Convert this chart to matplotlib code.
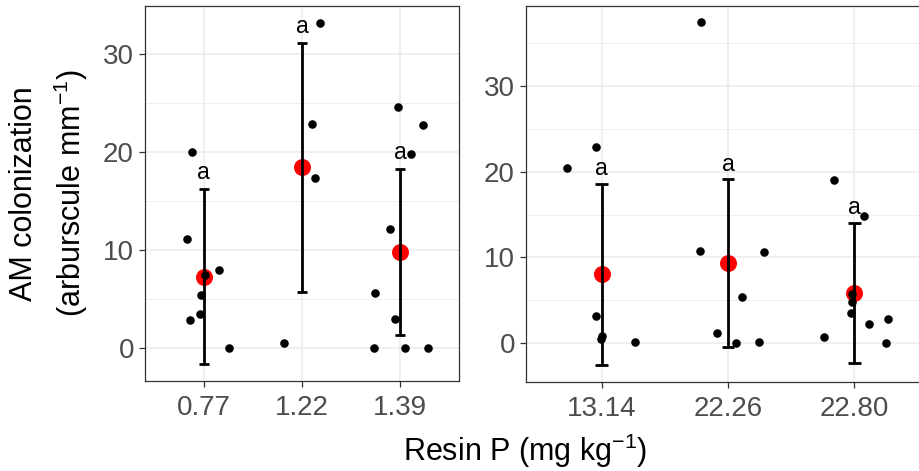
import matplotlib
matplotlib.use("Agg")
import matplotlib.pyplot as plt
import numpy as np

plt.rcParams['font.family'] = ['Liberation Sans', 'DejaVu Sans']
plt.rcParams['mathtext.fontset'] = 'custom'
plt.rcParams['mathtext.rm'] = 'Liberation Sans'
plt.rcParams['mathtext.it'] = 'Liberation Sans:italic'
plt.rcParams['mathtext.default'] = 'regular'

# ---------------- data ----------------
left_labels = ["0.77", "1.22", "1.39"]
right_labels = ["13.14", "22.26", "22.80"]

l1_y = [20.07, 11.15, 8.03, 7.49, 5.39, 3.49, 2.88, 0.0]
l1_dx = [-0.119, -0.177, 0.156, 0.007, -0.034, -0.044, -0.139, 0.258]
l2_y = [33.15, 22.92, 17.39, 0.51]
l2_dx = [0.184, 0.102, 0.129, -0.187]
l3_y = [24.64, 22.78, 19.86, 12.14, 5.69, 2.95, 0.0, 0.0, 0.0]
l3_dx = [-0.024, 0.231, 0.112, -0.105, -0.252, -0.048, -0.265, 0.051, 0.282]

r1_y = [20.40, 22.89, 3.23, 0.86, 0.54, 0.16]
r1_dx = [-0.274, -0.047, -0.045, 0.003, -0.003, 0.266]
r2_y = [37.43, 10.80, 10.69, 5.40, 1.17, 0.0, 0.16]
r2_dx = [-0.211, -0.224, 0.285, 0.113, -0.084, 0.066, 0.243]
r3_y = [19.04, 14.85, 5.75, 4.85, 3.50, 2.21, 2.80, 0.70, 0.0]
r3_dx = [-0.164, 0.079, -0.018, -0.018, -0.026, 0.119, 0.264, -0.243, 0.248]

left_means = [7.32, 18.47, 9.81]
left_sd = [8.95, 12.68, 8.46]
right_means = [8.03, 9.37, 5.91]
right_sd = [10.55, 9.76, 8.16]

left_letters = ["a", "a", "a"]
right_letters = ["a", "a", "a"]

# ---------------- figure ----------------
W, H = 920, 471
fig = plt.figure(figsize=(W / 100, H / 100), dpi=100)
axL = fig.add_axes([145 / W, 90 / H, 314 / W, 375 / H])
axR = fig.add_axes([526 / W, 89.3 / H, 404 / W, 375.7 / H])

GRID = '#EBEBEB'
TICKC = '#4D4D4D'
BORDER = '#333333'


def panel(ax, labels, ys, dxs, means, sds, letters, ylim, major, minor):
    ax.set_facecolor('white')
    ax.set_xlim(0.4, 3.6)
    ax.set_ylim(*ylim)
    ax.set_xticks([1, 2, 3])
    ax.set_xticklabels(labels)
    ax.set_yticks(major)
    ax.set_yticks(minor, minor=True)
    ax.grid(True, which='major', color=GRID, lw=1.1, zorder=0)
    ax.grid(True, which='minor', axis='y', color=GRID, lw=0.55, zorder=0)
    ax.set_axisbelow(True)
    ax.tick_params(axis='both', which='major', length=4, width=0.9,
                   color=BORDER, labelcolor=TICKC, labelsize=20)
    ax.tick_params(axis='x', pad=6)
    ax.tick_params(axis='y', pad=4)
    ax.tick_params(which='minor', length=0)
    for s in ax.spines.values():
        s.set_color(BORDER)
        s.set_linewidth(0.9)
    xs = np.arange(1, len(labels) + 1)
    # means
    ax.scatter(xs, means, s=150, color='red', zorder=3, linewidths=0)
    lo = np.array(means) - np.array(sds)
    hi = np.array(means) + np.array(sds)
    ax.vlines(xs, lo, hi, color='black', lw=2.0, zorder=4)
    ax.hlines(lo, xs - 0.05, xs + 0.05, color='black', lw=2.0, zorder=4)
    ax.hlines(hi, xs - 0.05, xs + 0.05, color='black', lw=2.0, zorder=4)
    for i, (y, dx) in enumerate(zip(ys, dxs)):
        ax.scatter(xs[i] + np.array(dx), y, s=38, color='black',
                   zorder=5, linewidths=0)
    for i, t in enumerate(letters):
        ax.text(xs[i], hi[i] + 1.0, t, ha='center', va='baseline',
                fontsize=16.5, color='black', zorder=6)


panel(axL, left_labels, [l1_y, l2_y, l3_y], [l1_dx, l2_dx, l3_dx],
      left_means, left_sd, left_letters, (-3.34, 34.93),
      [0, 10, 20, 30], [5, 15, 25])
panel(axR, right_labels, [r1_y, r2_y, r3_y], [r1_dx, r2_dx, r3_dx],
      right_means, right_sd, right_letters, (-4.48, 39.3),
      [0, 10, 20, 30], [5, 15, 25, 35])

axL.set_ylabel('AM colonization\n(arburscule mm$^{-1}$)', fontsize=22,
               color='black', linespacing=1.45, labelpad=9)

fig.text(525 / W, (H - 461) / H,
         'Resin P (mg kg$^{-1}$)',
         ha='center', va='baseline', fontsize=22, color='black')

fig.savefig('out.png', dpi=100, facecolor='white')
